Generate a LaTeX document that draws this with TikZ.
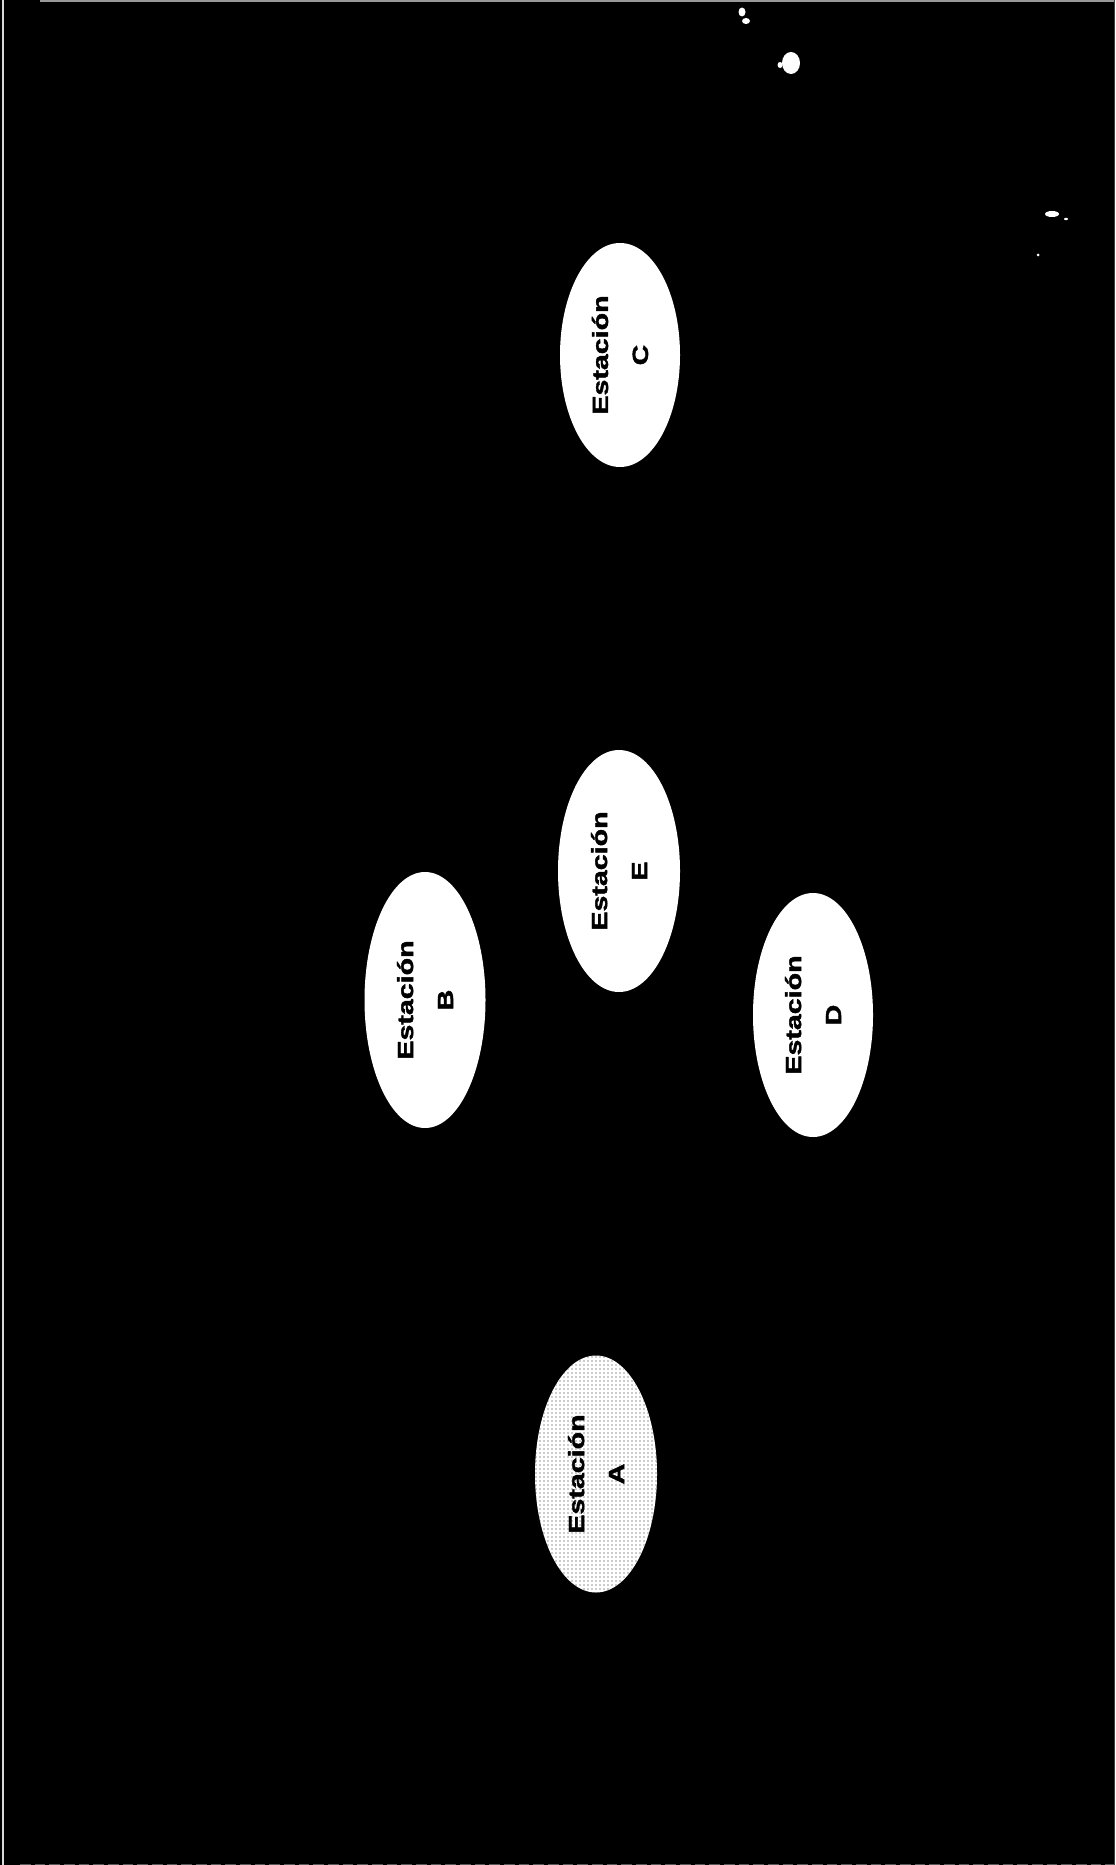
\documentclass[tikz,border=0pt]{standalone}
\usepackage{fontspec}
\setmainfont{Liberation Sans}
\newfontfamily\heavy{Liberation Sans}[UprightFont={* Bold}, FakeBold=1.6]
\usetikzlibrary{shapes.geometric,patterns}
\newcommand{\wide}[1]{\scalebox{1.3}[1]{#1}}
\begin{document}
\begin{tikzpicture}[x=0.75pt,y=-0.75pt,
  station/.style={ellipse, draw=none, fill=white, inner sep=0pt, rotate=90,
    align=center, text=black, font=\heavy\fontsize{16.5}{30}\selectfont},
  dotted station/.style={station, fill=none, preaction={fill=white},
    pattern=dots, pattern color=black!85},
  speck/.style={fill=white, draw=none}
]
\fill[black] (0,0) rectangle (1115,1865);
\useasboundingbox (0,0) rectangle (1115,1865);
% scan edges
\draw[white!85!black, line width=1.2pt] (3,0) -- (3,1865);
\draw[white!60!black, line width=0.8pt] (40,1) -- (1115,1);
\draw[white!35!black, line width=0.6pt, dash pattern=on 8pt off 3pt] (20,1864) -- (1115,1864);
\draw[white!25!black, line width=0.6pt] (1114,0) -- (1114,1865);
% specks
\fill[speck] (742,12) ellipse (3.5 and 4.5);
\fill[speck] (746,21) ellipse (4 and 3);
\fill[speck] (791,63) ellipse (9 and 11);
\fill[speck] (780,65) ellipse (2.5 and 3);
\fill[speck] (1052,214) ellipse (7 and 3);
\fill[speck] (1066,219) ellipse (2 and 1.2);
\fill[speck] (1038,255) ellipse (1.5 and 1.5);
% stations
\node[station, minimum width=168pt, minimum height=90pt] (C) at (620,355) {\wide{Estación}\\\wide{C}};
\node[station, minimum width=181.5pt, minimum height=91.5pt] (E) at (619,871) {\wide{Estación}\\\wide{E}};
\node[station, minimum width=192pt, minimum height=90.75pt] (B) at (425,1000) {\wide{Estación}\\\wide{B}};
\node[station, minimum width=183pt, minimum height=90pt] (D) at (813,1015) {\wide{Estación}\\\wide{D}};
\node[dotted station, minimum width=177.75pt, minimum height=91.5pt] (A) at (596,1474) {\wide{Estación}\\\wide{A}};
\end{tikzpicture}
\end{document}
